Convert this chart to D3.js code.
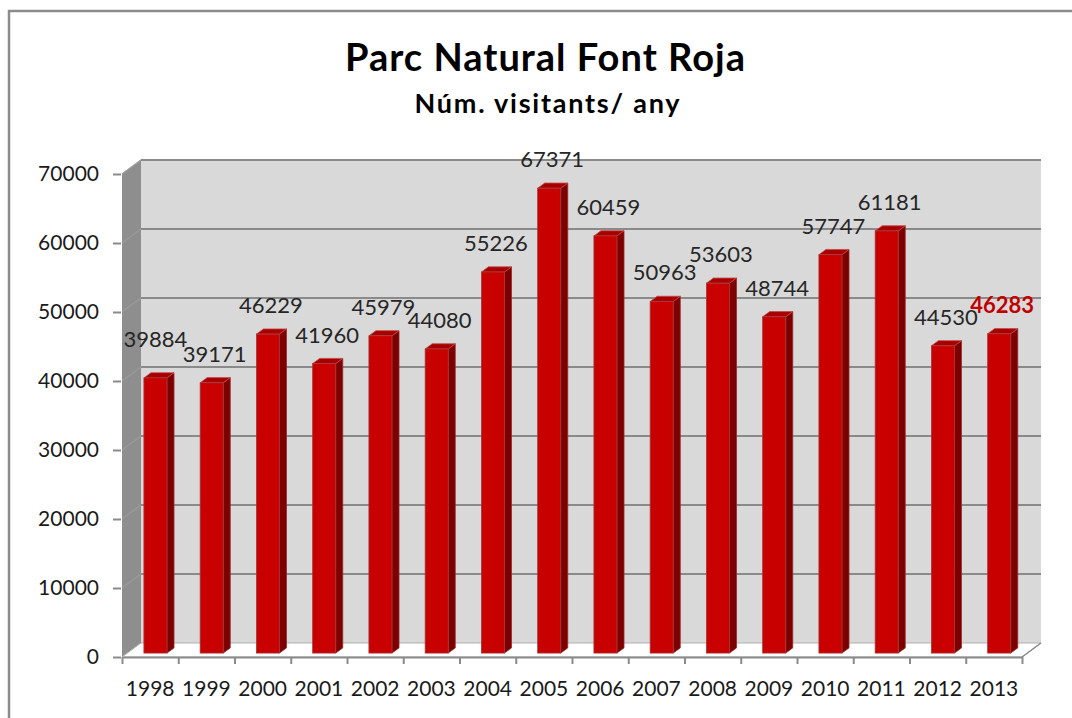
<!DOCTYPE html>
<html>
<head>
<meta charset="utf-8">
<script src="https://cdn.jsdelivr.net/npm/d3@7"></script>
<style>
  body { margin: 0; background: #fff; }
  text { font-family: Lato, "Open Sans", sans-serif; }
</style>
</head>
<body>
<div id="chart"></div>
<script>
// Data
let years = ["1998", "1999", "2000", "2001", "2002", "2003", "2004", "2005",
             "2006", "2007", "2008", "2009", "2010", "2011", "2012", "2013"];
let visitors = [39884, 39171, 46229, 41960, 45979, 44080, 55226, 67371,
                60459, 50963, 53603, 48744, 57747, 61181, 44530, 46283];
let yTicks = [0, 10000, 20000, 30000, 40000, 50000, 60000, 70000];

let svgWidth = 1072;
let svgHeight = 718;

// Front plane of the 3D box and the depth offset
let plot = { left: 122, right: 1022, bottom: 657, top: 174 };
let depth = { dx: 19, dy: -14 };
// bar sits between these fractions of the depth
let f0 = 0.28, f1 = 0.65;

let svg = d3.select("#chart")
  .append("svg")
  .attr("width", svgWidth)
  .attr("height", svgHeight);

// Outer frame (only top and left show)
svg.append("path")
  .attr("d", `M9,${svgHeight} V11 H${svgWidth}`)
  .attr("fill", "none")
  .attr("stroke", "#8c8c8c")
  .attr("stroke-width", 2.5);

// Titles
svg.append("text")
  .attr("x", 545).attr("y", 71)
  .attr("text-anchor", "middle")
  .attr("textLength", 400)
  .attr("lengthAdjust", "spacing")
  .style("font-size", "38px").style("font-weight", "bold")
  .text("Parc Natural Font Roja");
svg.append("text")
  .attr("x", 547).attr("y", 113)
  .attr("text-anchor", "middle")
  .attr("textLength", 265)
  .attr("lengthAdjust", "spacing")
  .style("font-size", "27px").style("font-weight", "bold")
  .text("Núm. visitants/ any");

// Scales
let xScale = d3.scaleBand()
  .domain(years)
  .range([plot.left, plot.right]);
let yScale = d3.scaleLinear()
  .domain([0, 70000])
  .range([plot.bottom, plot.top]);

let bw = xScale.bandwidth();
let faceW = bw * 0.41;

// Back wall
svg.append("rect")
  .attr("x", plot.left + depth.dx)
  .attr("y", yScale(70000) + depth.dy)
  .attr("width", plot.right - plot.left)
  .attr("height", yScale(0) - yScale(70000))
  .attr("fill", "#d9d9d9");

// Left side wall
svg.append("polygon")
  .attr("points", [
    [plot.left, yScale(70000)],
    [plot.left + depth.dx, yScale(70000) + depth.dy],
    [plot.left + depth.dx, yScale(0) + depth.dy],
    [plot.left, yScale(0)]
  ].join(" "))
  .attr("fill", "#8e8e8e");

// Floor
svg.append("polygon")
  .attr("points", [
    [plot.left, yScale(0)],
    [plot.left + depth.dx, yScale(0) + depth.dy],
    [plot.right + depth.dx, yScale(0) + depth.dy],
    [plot.right, yScale(0)]
  ].join(" "))
  .attr("fill", "#fff")
  .attr("stroke", "#b0b0b0")
  .attr("stroke-width", 1);

// Gridlines on back wall and side wall
let grid = svg.append("g");
grid.selectAll("line.back")
  .data(yTicks.filter(d => d > 0))
  .enter()
  .append("line")
  .attr("class", "back")
  .attr("x1", plot.left + depth.dx)
  .attr("x2", plot.right + depth.dx)
  .attr("y1", d => yScale(d) + depth.dy)
  .attr("y2", d => yScale(d) + depth.dy)
  .attr("stroke", "#8a8a8a")
  .attr("stroke-width", 2);
grid.selectAll("line.side")
  .data(yTicks.filter(d => d > 0))
  .enter()
  .append("line")
  .attr("class", "side")
  .attr("x1", plot.left)
  .attr("x2", plot.left + depth.dx)
  .attr("y1", d => yScale(d))
  .attr("y2", d => yScale(d) + depth.dy)
  .attr("stroke", "#9a9a9a")
  .attr("stroke-width", 1.5);

// Bars
let bars = svg.append("g");
visitors.forEach(function(v, i) {
  let x = xScale(years[i]) + (bw - faceW) / 2 + f0 * depth.dx;
  let yb = yScale(0) + f0 * depth.dy;
  let yt = yScale(v) + f0 * depth.dy;
  let ddx = (f1 - f0) * depth.dx;
  let ddy = (f1 - f0) * depth.dy;
  // side
  bars.append("polygon")
    .attr("points", [[x + faceW, yt], [x + faceW + ddx, yt + ddy], [x + faceW + ddx, yb + ddy], [x + faceW, yb]].join(" "))
    .attr("fill", "#7c0000")
    .attr("stroke", "#9b2a2a").attr("stroke-width", 0.8);
  // top
  bars.append("polygon")
    .attr("points", [[x, yt], [x + ddx, yt + ddy], [x + faceW + ddx, yt + ddy], [x + faceW, yt]].join(" "))
    .attr("fill", "#a80000")
    .attr("stroke", "#c44a4a").attr("stroke-width", 0.8);
  // front
  bars.append("rect")
    .attr("x", x).attr("y", yt)
    .attr("width", faceW).attr("height", yb - yt)
    .attr("fill", "#c80000")
    .attr("stroke", "#a33a3a").attr("stroke-width", 0.8);
});

// Data labels
svg.append("g")
  .selectAll("text")
  .data(visitors)
  .enter()
  .append("text")
  .attr("x", (d, i) => xScale(years[i]) + bw / 2 + f0 * depth.dx + (i === 0 ? 0 : 3))
  .attr("y", (d, i) => yScale(d) + f0 * depth.dy - (i === 0 ? 31 : 21))
  .attr("text-anchor", "middle")
  .style("font-size", "22px")
  .style("font-weight", (d, i) => i === visitors.length - 1 ? "bold" : "normal")
  .style("fill", (d, i) => i === visitors.length - 1 ? "#c00000" : "#262626")
  .text(d => d);

// Y axis
let yAxis = svg.append("g")
  .attr("transform", `translate(${plot.left - 1},0)`)
  .call(d3.axisLeft(yScale).tickValues(yTicks).tickSize(8).tickPadding(14).tickFormat(d3.format("d")));
yAxis.select(".domain").remove();
yAxis.selectAll("line").attr("stroke", "#8a8a8a").attr("stroke-width", 2);
yAxis.selectAll("text").style("font-size", "21px").style("fill", "#1a1a1a")
  .style("font-family", "Lato, 'Open Sans', sans-serif");

// X axis: front edge and boundary ticks
let boundary = d3.scaleLinear().domain([0, years.length]).range([plot.left, plot.right]);
let xTickAxis = svg.append("g")
  .attr("transform", `translate(0,${plot.bottom})`)
  .call(d3.axisBottom(boundary).tickValues(d3.range(years.length + 1)).tickSize(7).tickSizeOuter(0).tickFormat(""));
xTickAxis.select(".domain").attr("stroke", "#8a8a8a").attr("stroke-width", 2);
xTickAxis.selectAll("line").attr("stroke", "#8a8a8a").attr("stroke-width", 2);

// floor right edge
svg.append("line")
  .attr("x1", plot.right).attr("y1", yScale(0))
  .attr("x2", plot.right + depth.dx).attr("y2", yScale(0) + depth.dy)
  .attr("stroke", "#8a8a8a").attr("stroke-width", 1.5);

// X labels
let xLabelAxis = svg.append("g")
  .attr("transform", `translate(0,${plot.bottom})`)
  .call(d3.axisBottom(xScale).tickSize(0).tickPadding(24));
xLabelAxis.select(".domain").remove();
xLabelAxis.selectAll("text").style("font-size", "21px").style("fill", "#1a1a1a")
  .style("font-family", "Lato, 'Open Sans', sans-serif");
</script>
</body>
</html>
